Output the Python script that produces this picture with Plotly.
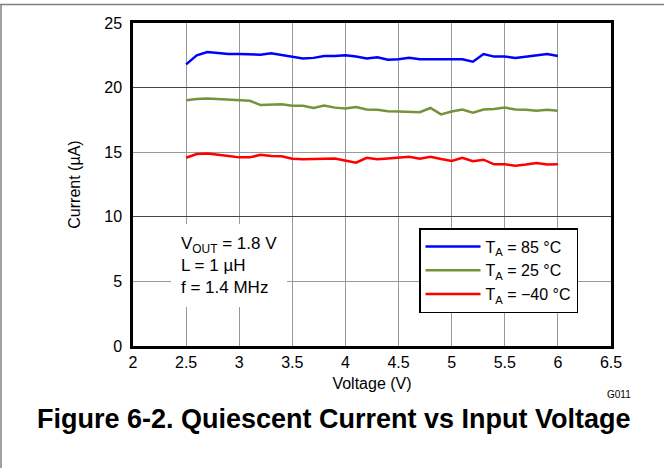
import plotly.graph_objects as go

voltage = [2.5, 2.6, 2.7, 2.8, 2.9, 3.0, 3.1, 3.2, 3.3, 3.4, 3.5, 3.6, 3.7, 3.8, 3.9, 4.0, 4.1, 4.2,
           4.3, 4.4, 4.5, 4.6, 4.7, 4.8, 4.9, 5.0, 5.1, 5.2, 5.3, 5.4, 5.5, 5.6, 5.7, 5.8, 5.9, 6.0]

i_85 = [21.8, 22.5, 22.75, 22.65, 22.6, 22.6, 22.6, 22.55, 22.65, 22.5, 22.35, 22.25, 22.3, 22.45,
        22.45, 22.5, 22.4, 22.25, 22.35, 22.15, 22.2, 22.3, 22.2, 22.2, 22.15, 22.2, 22.2, 22.0,
        22.6, 22.4, 22.4, 22.3, 22.4, 22.45, 22.6, 22.45]

i_25 = [19.02, 19.12, 19.15, 19.1, 19.05, 19.02, 18.98, 18.65, 18.7, 18.72, 18.6, 18.6, 18.42, 18.62,
        18.45, 18.38, 18.5, 18.3, 18.28, 18.17, 18.15, 18.15, 18.1, 18.42, 17.93, 18.15, 18.3, 18.05,
        18.3, 18.35, 18.45, 18.3, 18.28, 18.2, 18.28, 18.2]

i_m40 = [14.57, 14.86, 14.9, 14.82, 14.7, 14.6, 14.6, 14.8, 14.7, 14.68, 14.5, 14.45, 14.5, 14.5,
         14.52, 14.37, 14.19, 14.57, 14.45, 14.52, 14.6, 14.65, 14.5, 14.65, 14.47, 14.32, 14.57, 14.3,
         14.42, 14.06, 14.06, 13.96, 14.04, 14.16, 14.04, 14.06]

series_names = ["T<sub>A</sub> = 85 °C", "T<sub>A</sub> = 25 °C", "T<sub>A</sub> = −40 °C"]
series_colors = ["#0000FF", "#76923C", "#FF0000"]

x_ticks = [2, 2.5, 3, 3.5, 4, 4.5, 5, 5.5, 6, 6.5]
x_ticklabels = ["2", "2.5", "3", "3.5", "4", "4.5", "5", "5.5", "6", "6.5"]
y_ticks = [0, 5, 10, 15, 20, 25]

FONT = "Liberation Sans, Arial, Helvetica, sans-serif"

fig = go.Figure()
for name, ys, col in zip(series_names, [i_85, i_25, i_m40], series_colors):
    fig.add_trace(go.Scatter(x=voltage, y=ys, mode="lines", name=name,
                             line=dict(color=col, width=2.5)))

# invisible trace on overlay axis for darker major horizontal grid
fig.add_trace(go.Scatter(x=[voltage[0]], y=[0], yaxis="y2", mode="markers",
                         marker=dict(opacity=0), showlegend=False, hoverinfo="skip"))

fig.update_layout(
    width=664, height=468,
    margin=dict(l=133, r=53, t=23, b=122),
    paper_bgcolor="white", plot_bgcolor="white",
    font=dict(family=FONT, size=16, color="black"),
    showlegend=True,
    legend=dict(x=(419 - 133) / 478, y=(346 - 228) / 323, xanchor="left", yanchor="top",
                bgcolor="white", bordercolor="black", borderwidth=1.5,
                font=dict(size=16), tracegroupgap=0, itemwidth=55),
    xaxis=dict(range=[2, 6.5], tickvals=x_ticks, ticktext=x_ticklabels,
               showgrid=True, gridcolor="#999999", gridwidth=1,
               showline=True, linecolor="black", linewidth=2.5, mirror=True,
               ticks="", zeroline=False, automargin=False,
               title=dict(text="Voltage (V)", standoff=8, font=dict(size=16))),
    yaxis=dict(range=[0, 25], tickvals=y_ticks,
               showgrid=True, gridcolor="#9a9a9a", gridwidth=1,
               showline=True, linecolor="black", linewidth=2.5, mirror=True,
               ticks="", zeroline=False, automargin=False, ticklabelstandoff=5,
               title=dict(text="Current (µA)", standoff=20, font=dict(size=16))),
    yaxis2=dict(range=[0, 25], overlaying="y", tickvals=[10, 20], showticklabels=False,
                showgrid=True, gridcolor="#444444", gridwidth=1, zeroline=False,
                showline=False, ticks="", automargin=False),
)

fig.add_annotation(
    xref="paper", yref="paper", x=0.0796, y=0.378, xanchor="left", yanchor="top",
    text="V<sub>OUT</sub> = 1.8 V<br>L = 1 µH<br>f = 1.4 MHz", align="left",
    showarrow=False, bgcolor="white", borderpad=10, borderwidth=0,
    font=dict(size=17, family=FONT),
)

fig.add_annotation(
    xref="paper", yref="paper", x=(334 - 133) / 478, y=(346 - 419) / 323,
    xanchor="center", yanchor="middle",
    text="<b>Figure 6-2. Quiescent Current vs Input Voltage</b>", showarrow=False,
    font=dict(size=27, family=FONT),
)

fig.add_annotation(
    xref="paper", yref="paper", x=(619 - 133) / 478, y=(346 - 394) / 323,
    xanchor="center", yanchor="middle", text="G011", showarrow=False,
    font=dict(size=10, family=FONT),
)

# outer frame (top and left edges visible)
fig.add_shape(type="line", xref="paper", yref="paper",
              x0=(0 - 133) / 478, x1=(664 - 133) / 478,
              y0=(346 - 4.5) / 323, y1=(346 - 4.5) / 323,
              line=dict(color="#808080", width=1.5))
fig.add_shape(type="line", xref="paper", yref="paper",
              x0=(1 - 133) / 478, x1=(1 - 133) / 478,
              y0=(346 - 4.5) / 323, y1=(346 - 470) / 323,
              line=dict(color="#808080", width=1.5))

fig.write_html("out.html", config={"displayModeBar": False},
               post_script="document.body.style.margin='0';")
